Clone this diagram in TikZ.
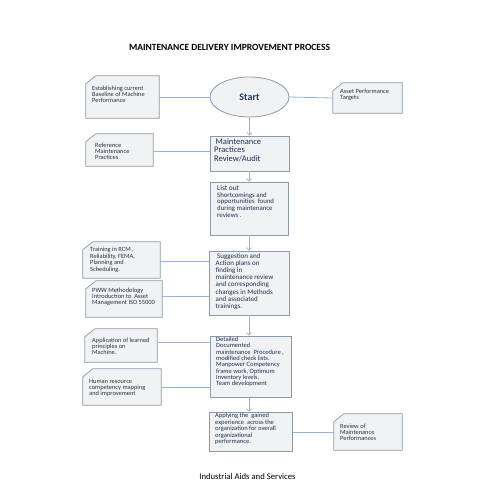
\documentclass[tikz,border=0pt]{standalone}
\usepackage{fontspec}
\setmainfont{Carlito}
\usetikzlibrary{arrows.meta,shapes.geometric}
\definecolor{boxdraw}{HTML}{8C99AA}
\definecolor{boxfill}{HTML}{F1F2F4}
\definecolor{linec}{HTML}{95B3D7}
\definecolor{maintext}{HTML}{1F2F50}
\definecolor{sidetext}{HTML}{2A2F3A}
\definecolor{starttext}{HTML}{1F3864}
\newcommand\chbox[1]{\draw[chamf] (#1.south west) -- (#1.south east) -- (#1.north east) -- ([xshift=10pt]#1.north west) -- ([yshift=-8pt]#1.north west) -- cycle;}
\begin{document}
\begin{tikzpicture}[x=1pt,y=-1pt,
 mainbox/.style={rectangle,draw=boxdraw,fill=boxfill,line width=0.7pt,inner sep=0pt},
 sidebox/.style={rectangle,inner sep=0pt},
 chamf/.style={draw=boxdraw,fill=boxfill,line width=0.7pt},
 maintxt/.style={anchor=north west,inner sep=0pt,align=left,text=maintext,font=\fontsize{7}{7.1}\selectfont},
 sidetxt/.style={anchor=north west,inner sep=0pt,align=left,text=sidetext,font=\fontsize{6.4}{6.2}\selectfont},
 conn/.style={draw=linec,line width=0.8pt},
 arr/.style={conn,-{Straight Barb[length=2.5pt,width=5pt]}}]
\useasboundingbox (0,0) rectangle (495,495);
\fill[white] (0,0) rectangle (495,495);

% title and footer
\node[font=\bfseries\fontsize{9.5}{10}\selectfont] (title) at (229.5,47) {MAINTENANCE DELIVERY IMPROVEMENT PROCESS};
\node[font=\fontsize{8.7}{9}\selectfont] (footer) at (247.5,477) {Industrial Aids and Services};

% main flow boxes
\node[ellipse,draw=boxdraw,fill=boxfill,line width=0.8pt,minimum width=79pt,minimum height=40pt,inner sep=0pt,
      text=starttext,font=\bfseries\fontsize{10}{11}\selectfont] (start) at (249.5,97) {Start};
\node[mainbox,minimum width=79pt,minimum height=35pt] (maint) at (249.5,153.5) {};
\node[mainbox,minimum width=78pt,minimum height=53pt] (list) at (249,208.5) {};
\node[mainbox,minimum width=80pt,minimum height=64pt] (sugg) at (249,283) {};
\node[mainbox,minimum width=81pt,minimum height=61pt] (det) at (250.5,366.5) {};
\node[mainbox,minimum width=83pt,minimum height=39pt] (apply) at (250.5,431.5) {};

% side boxes (outline drawn below)
\node[sidebox,minimum width=73pt,minimum height=42pt] (est) at (122.5,97) {};
\node[sidebox,minimum width=69pt,minimum height=30pt] (asset) at (367.5,98) {};
\node[sidebox,minimum width=67pt,minimum height=32pt] (ref) at (119.5,150) {};
\node[sidebox,minimum width=77pt,minimum height=36pt] (train) at (121.5,260) {};
\node[sidebox,minimum width=76pt,minimum height=36pt] (pww) at (124,299) {};
\node[sidebox,minimum width=72pt,minimum height=33pt] (appl) at (121,345.5) {};
\node[sidebox,minimum width=78pt,minimum height=36pt] (human) at (122,387) {};
\node[sidebox,minimum width=68pt,minimum height=36pt] (review) at (368,432) {};
\chbox{est}\chbox{asset}\chbox{ref}\chbox{train}\chbox{pww}\chbox{appl}\chbox{human}\chbox{review}

% connectors
\draw[conn] (est.east) -- (start.west);
\draw[conn] (start.east) -- (asset.west);
\draw[conn] ([yshift=-1pt]ref.east) -- ([yshift=-1pt]ref.east -| maint.west);
\draw[conn] ([yshift=-1pt]train.east) -- ([yshift=-1pt]train.east -| sugg.west);
\draw[conn] ([yshift=3pt]pww.east) -- ([yshift=3pt]pww.east -| sugg.west);
\draw[conn] ([yshift=3.5pt]appl.east) -- ([yshift=3.5pt]appl.east -| det.west);
\draw[conn] (human.east) -- (human.east -| det.west);
\draw[conn] (apply.east |- review.west) -- (review.west);
\draw[arr] (start.south) -- (maint.north);
\draw[arr] (maint.south -| list.north) -- (list.north);
\draw[arr] (list.south) -- (sugg.north);
\draw[arr] (sugg.south) -- (sugg.south |- det.north);
\draw[arr] (sugg.south |- det.south) -- (sugg.south |- apply.north);

% texts
\node[sidetxt] (estT) at (92,85.5) {Establishing current\\Baseline of Machine\\Performance};
\node[sidetxt] (assetT) at (340,88.8) {Asset Performance\\Targets};
\node[sidetxt] (refT) at (95,142.8) {Reference\\Maintenance\\Practices};
\node[maintxt,font=\fontsize{8.5}{8.3}\selectfont] (maintT) at (214,138.5) {\hspace*{1.5pt}Maintenance\\Practices\\Review/Audit};
\node[maintxt,font=\fontsize{6.8}{6.6}\selectfont] (listT) at (217,185.5) {{\fontsize{7.4}{7}\selectfont List out}\\Shortcomings and\\opportunities\ \ found\\during maintenance\\reviews .};
\node[maintxt] (suggT) at (215.5,253.5) {\hspace*{1.5pt}Suggestion and\\Action plans on\\finding in\\maintenance review\\and corresponding\\changes in Methods\\and associated\\trainings.};
\node[sidetxt,font=\fontsize{6.4}{6.7}\selectfont] (trainT) at (90,246.8) {Training in RCM ,\\Reliability, FEMA,\\Planning and\\Scheduling.};
\node[sidetxt] (pwwT) at (92,287.8) {PWW Methodology\\Introduction to\ \ Asset\\Management ISO 55000};
\node[sidetxt] (applT) at (92,337.8) {Application of learned\\principles on\\Machine.};
\node[maintxt,font=\fontsize{6.5}{6.3}\selectfont] (detT) at (216,336.8) {Detailed\\Documented\\maintenance\ \ Procedure ,\\modified check lists.\\Manpower Competency\\frame work, Optimum\\Inventory levels.\\Team development};
\node[sidetxt] (humanT) at (89,378.8) {Human resource\\competency mapping\\and improvement};
\node[maintxt,font=\fontsize{6.5}{6.5}\selectfont] (applyT) at (215,412.8) {Applying the\ \ gained\\experience\ \ across the\\organization for overall\\organizational\\performance.};
\node[sidetxt] (reviewT) at (340,423.8) {Review of\\Maintenance\\Performances};
\end{tikzpicture}
\end{document}
